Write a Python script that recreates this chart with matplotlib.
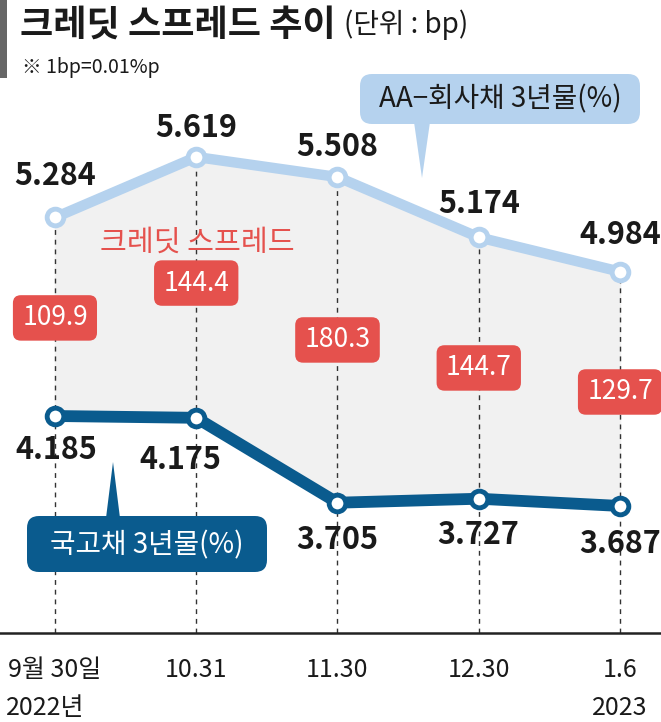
import matplotlib.pyplot as plt
import numpy as np
from matplotlib.patches import FancyBboxPatch, Polygon, Rectangle

plt.rcParams['font.family'] = ['Noto Sans CJK KR', 'DejaVu Sans']

# 데이터
dates = ['9월 30일', '10.31', '11.30', '12.30', '1.6']
years = ['2022년', '', '', '', '2023']
aa_corp = [5.284, 5.619, 5.508, 5.174, 4.984]     # AA- 회사채 3년물(%)
gov_bond = [4.185, 4.175, 3.705, 3.727, 3.687]    # 국고채 3년물(%)
spread = [109.9, 144.4, 180.3, 144.7, 129.7]      # 크레딧 스프레드(bp)

# 색상
LIGHT_BLUE = '#b5d2ee'
DARK_BLUE = '#0a5b8e'
RED = '#e5514d'
FILL_GRAY = '#f1f1f1'
TXT = '#1a1a1a'

# 레이아웃 (그림 위치)
BASE_Y = 2.983
spread_box_y = [4.728, 4.921, 4.606, 4.451, 4.318]
aa_offset = [(0, 41), (0, 29), (0, 30), (0, 33), (0, 37)]
gov_offset = [(1, -34), (-16, -42), (0, -37), (-1, -36), (0, -38)]

fig = plt.figure(figsize=(6.61, 7.22), dpi=100)
ax = fig.add_axes([0, 0, 1, 1])
ax.set_xlim(-0.389, 4.290)
ax.set_ylim(2.491, 6.488)
ax.axis('off')

x = np.arange(len(dates))

# 스프레드 영역
ax.fill_between(x, gov_bond, aa_corp, color=FILL_GRAY, zorder=1)

# 점선 세로선
for i in x:
    ax.plot([i, i], [BASE_Y, aa_corp[i]], color='#333333', lw=1.0,
            ls=(0, (3.5, 3.5)), zorder=2)

# 축 선
ax.axhline(BASE_Y, color='#222222', lw=1.8, zorder=2)

# 선
ax.plot(x, aa_corp, color=LIGHT_BLUE, lw=7.5, zorder=3, solid_capstyle='round')
ax.plot(x, aa_corp, 'o', ms=12, mfc='white', mec=LIGHT_BLUE, mew=3.5, zorder=4)
ax.plot(x, gov_bond, color=DARK_BLUE, lw=8.5, zorder=3, solid_capstyle='round')
ax.plot(x, gov_bond, 'o', ms=12, mfc='white', mec=DARK_BLUE, mew=3.5, zorder=4)

# 값 라벨
for i in x:
    ax.annotate(f'{aa_corp[i]:.3f}', (i, aa_corp[i]), xytext=aa_offset[i],
                textcoords='offset pixels', ha='center', va='center',
                fontsize=22, fontweight='bold', color=TXT, zorder=6)
    ax.annotate(f'{gov_bond[i]:.3f}', (i, gov_bond[i]), xytext=gov_offset[i],
                textcoords='offset pixels', ha='center', va='center',
                fontsize=22, fontweight='bold', color=TXT, zorder=6)
    ax.text(i, spread_box_y[i], f'{spread[i]:.1f}', ha='center', va='center',
            fontsize=19, color='white', zorder=6,
            bbox=dict(boxstyle='round,pad=0.35,rounding_size=0.3',
                      fc=RED, ec='none'))

# x축 라벨
for i in x:
    ax.annotate(dates[i], (i, BASE_Y), xytext=(0, -37),
                textcoords='offset pixels', ha='center', va='center',
                fontsize=18, color=TXT)
    if years[i]:
        ax.annotate(years[i], (i, BASE_Y), xytext=(-10 if i == 0 else 0, -75),
                    textcoords='offset pixels', ha='center', va='center',
                    fontsize=18, color=TXT)

# 장식용 픽셀 좌표 축
deco = fig.add_axes([0, 0, 1, 1], facecolor='none')
deco.set_xlim(0, 661)
deco.set_ylim(722, 0)
deco.axis('off')

# 제목
deco.add_patch(Rectangle((0, 0), 7, 78, color='#666666', lw=0))
deco.text(20, 25, '크레딧 스프레드 추이', ha='left', va='center', fontsize=26,
          fontweight='heavy', color=TXT)
deco.text(344, 25, '(단위 : bp)', ha='left', va='center', fontsize=20,
          color=TXT)
deco.text(22, 67, '※ 1bp=0.01%p', ha='left', va='center', fontsize=14,
          color=TXT)

# 크레딧 스프레드 라벨
deco.text(197, 243, '크레딧 스프레드', ha='center', va='center', fontsize=21,
          color=RED)

# AA- 콜아웃
deco.add_patch(FancyBboxPatch((360, 74), 280, 50,
                              boxstyle='round,pad=0,rounding_size=12',
                              fc=LIGHT_BLUE, ec='none', zorder=5))
deco.add_patch(Polygon([(414, 122), (430, 122), (422, 178)], closed=True,
                       fc=LIGHT_BLUE, ec='none', zorder=5))
deco.text(500, 99, 'AA−회사채 3년물(%)', ha='center', va='center', fontsize=20,
          color=TXT, zorder=6)

# 국고채 콜아웃
deco.add_patch(FancyBboxPatch((27, 516), 240, 56,
                              boxstyle='round,pad=0,rounding_size=12',
                              fc=DARK_BLUE, ec='none', zorder=5))
deco.add_patch(Polygon([(106, 518), (120, 518), (113, 462)], closed=True,
                       fc=DARK_BLUE, ec='none', zorder=5))
deco.text(147, 545, '국고채 3년물(%)', ha='center', va='center', fontsize=20,
          color='white', zorder=6)

fig.savefig('out.png', dpi=100)
